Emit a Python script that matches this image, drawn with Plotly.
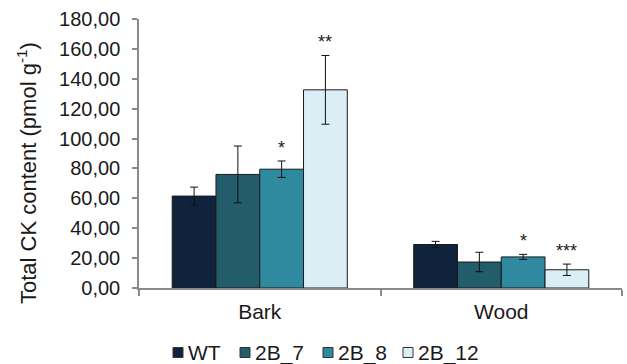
import plotly.graph_objects as go

# Tissue groups and genotypes
tissues = ["Bark", "Wood"]
genotypes = ["WT", "2B_7", "2B_8", "2B_12"]

# Mean total cytokinin content (pmol g-1) per genotype, ordered Bark, Wood
means = {
    "WT":    [61.5, 29.1],
    "2B_7":  [76.0, 17.4],
    "2B_8":  [79.5, 20.8],
    "2B_12": [132.6, 12.2],
}
# Error bar half-widths
errors = {
    "WT":    [6.0, 2.1],
    "2B_7":  [19.0, 6.5],
    "2B_8":  [5.5, 1.7],
    "2B_12": [23.0, 3.8],
}
# Significance marks above bars ("" = none)
signif = {
    "WT":    ["", ""],
    "2B_7":  ["", ""],
    "2B_8":  ["*", "*"],
    "2B_12": ["**", "***"],
}
y_ticks = [0, 20, 40, 60, 80, 100, 120, 140, 160, 180]
y_title = "Total CK content (pmol g<sup>-1</sup>)"

colors = {
    "WT": "#10233d",
    "2B_7": "#235c6a",
    "2B_8": "#2f8aa0",
    "2B_12": "#dbeef6",
}

FONT = "Arial, Liberation Sans, sans-serif"
TXT = "#1a1a1a"
AXIS = "#8a8a8a"
BARGAP = 0.275

W, H = 627, 364
ML, MR, MT, MB = 139, 5, 19, 76
PW, PH = W - ML - MR, H - MT - MB


def px_x(p):
    """Figure pixel x -> paper fraction."""
    return (p - ML) / PW


def px_y(p):
    """Figure pixel y (from top) -> paper fraction."""
    return (H - MB - p) / PH


fig = go.Figure()
for g in genotypes:
    fig.add_trace(go.Bar(
        name=g,
        x=tissues,
        y=means[g],
        marker=dict(color=colors[g], line=dict(color="#1a1a1a", width=1)),
        error_y=dict(type="data", array=errors[g], visible=True,
                     color="#111111", thickness=1, width=4),
        showlegend=False,
    ))

# Significance annotations, positioned at each bar's slot within its group
bw = (1 - BARGAP) / len(genotypes)
for i, g in enumerate(genotypes):
    for j, t in enumerate(tissues):
        s = signif[g][j]
        if not s:
            continue
        fig.add_annotation(
            x=j + (i - (len(genotypes) - 1) / 2) * bw,
            y=means[g][j] + errors[g][j],
            xref="x", yref="y",
            text=s, showarrow=False,
            yanchor="bottom", yshift=1,
            font=dict(family=FONT, size=18, color=TXT),
        )

# Compact legend row below the axis: small outlined squares followed by labels
legend_x = [173, 240, 323, 403]   # left edge of each swatch, px
legend_y = 352.5                  # vertical centre of the row, px
sq = 10

for g, lx in zip(genotypes, legend_x):
    fig.add_shape(
        type="rect", xref="paper", yref="paper",
        x0=px_x(lx), x1=px_x(lx + sq),
        y0=px_y(legend_y + sq / 2), y1=px_y(legend_y - sq / 2),
        fillcolor=colors[g], line=dict(color="#333333", width=1),
    )
    fig.add_annotation(
        x=px_x(lx + sq + 3), y=px_y(legend_y), xref="paper", yref="paper",
        text=g, showarrow=False, xanchor="left", yanchor="middle",
        font=dict(family=FONT, size=21, color=TXT),
    )

# Rotated y-axis title
fig.add_annotation(
    x=px_x(27), y=px_y(173), xref="paper", yref="paper",
    text=y_title, textangle=-90, showarrow=False,
    xanchor="center", yanchor="middle",
    font=dict(family=FONT, size=22, color=TXT),
)

fig.update_layout(
    width=W, height=H,
    margin=dict(l=ML, r=MR, t=MT, b=MB, autoexpand=False),
    paper_bgcolor="white", plot_bgcolor="white",
    barmode="group", bargap=BARGAP, bargroupgap=0,
    font=dict(family=FONT, color=TXT, size=20),
    showlegend=False,
)
fig.update_xaxes(
    type="category", showline=True, linecolor=AXIS, linewidth=1.5,
    ticks="outside", tickson="boundaries", ticklen=6, tickcolor=AXIS,
    tickwidth=1.5, showgrid=False, tickfont=dict(size=21),
    ticklabelstandoff=4,
)
fig.update_yaxes(
    range=[0, 180], tickvals=y_ticks,
    ticktext=[f"{v},00" for v in y_ticks],
    showline=True, linecolor=AXIS, linewidth=1.5,
    ticks="outside", ticklen=5, tickcolor=AXIS, tickwidth=1.5,
    showgrid=False, zeroline=False, tickfont=dict(size=20),
    ticklabelstandoff=8,
)

fig.write_html("out.html")
